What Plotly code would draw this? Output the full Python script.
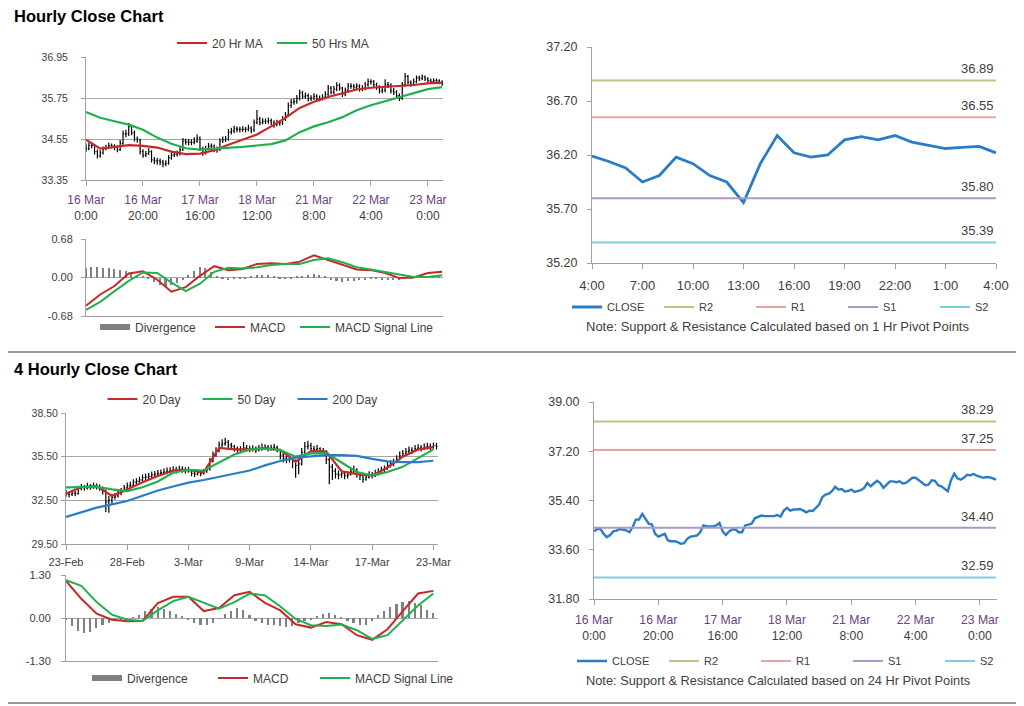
import plotly.graph_objects as go

FONT = "Liberation Sans, Arial, sans-serif"
TXT = "#404040"
GRID = "#a6a6a6"
AX = "#a0a0a0"
RED = "#c8282a"
GREEN = "#22b04e"
BLUE = "#2a7cc6"
DIVC = "#808080"

# ---------------- Hourly data (16 Mar 0:00 -> 23 Mar ~5:00) ----------------
hourly_ticks = ["16 Mar|0:00", "16 Mar|20:00", "17 Mar|16:00", "18 Mar|12:00",
                "21 Mar|8:00", "22 Mar|4:00", "23 Mar|0:00"]
hourly_close = [34.27, 34.36, 34.36, 34.18, 34.06, 34.14, 34.27, 34.30, 34.36, 34.34,
                34.31, 34.24, 34.42, 34.70, 34.70, 34.91, 34.73, 34.55, 34.52, 34.18,
                34.08, 34.12, 34.18, 33.94, 33.91, 33.91, 33.88, 33.82, 33.84, 34.00,
                34.08, 34.10, 34.12, 34.24, 34.49, 34.46, 34.45, 34.45, 34.49, 34.58,
                34.27, 34.14, 34.27, 34.34, 34.34, 34.24, 34.24, 34.49, 34.52, 34.55,
                34.75, 34.79, 34.85, 34.83, 34.83, 34.83, 34.83, 34.87, 34.81, 35.03,
                35.13, 35.03, 35.07, 35.07, 35.09, 35.04, 34.97, 35.03, 35.02, 35.13,
                35.25, 35.53, 35.62, 35.65, 35.74, 35.90, 35.80, 35.82, 35.73, 35.75,
                35.80, 35.71, 35.74, 35.78, 35.86, 36.04, 35.92, 36.01, 36.12, 36.04,
                35.86, 35.98, 36.10, 36.10, 36.07, 36.10, 36.02, 36.04, 36.14, 36.23,
                36.23, 36.14, 36.07, 35.96, 35.98, 36.14, 36.12, 35.96, 35.92, 35.82,
                35.74, 36.14, 36.38, 36.21, 36.16, 36.23, 36.34, 36.32, 36.37, 36.31,
                36.26, 36.23, 36.26, 36.25, 36.21, 36.16]
hourly_open = [34.35, 34.27, 34.36, 34.36, 34.18, 34.06, 34.14, 34.27, 34.30, 34.36,
               34.34, 34.31, 34.24, 34.42, 34.70, 34.70, 34.91, 34.73, 34.55, 34.52,
               34.18, 34.08, 34.12, 34.18, 33.94, 33.91, 33.91, 33.88, 33.82, 33.84,
               34.00, 34.08, 34.10, 34.12, 34.24, 34.49, 34.46, 34.45, 34.45, 34.49,
               34.58, 34.27, 34.14, 34.27, 34.34, 34.34, 34.24, 34.24, 34.49, 34.52,
               34.55, 34.75, 34.79, 34.85, 34.83, 34.83, 34.83, 34.83, 34.87, 34.81,
               35.03, 35.13, 35.03, 35.07, 35.07, 35.09, 35.04, 34.97, 35.03, 35.02,
               35.13, 35.25, 35.53, 35.62, 35.65, 35.74, 35.90, 35.80, 35.82, 35.73,
               35.75, 35.80, 35.71, 35.74, 35.78, 35.86, 36.04, 35.92, 36.01, 36.12,
               36.04, 35.86, 35.98, 36.10, 36.10, 36.07, 36.10, 36.02, 36.04, 36.14,
               36.23, 36.23, 36.14, 36.07, 35.96, 35.98, 36.14, 36.12, 35.96, 35.92,
               35.82, 35.74, 36.14, 36.38, 36.21, 36.16, 36.23, 36.34, 36.32, 36.37,
               36.31, 36.26, 36.23, 36.26, 36.25, 36.21]
hourly_high = [34.42, 34.44, 34.45, 34.40, 34.24, 34.22, 34.33, 34.38, 34.45, 34.42,
               34.40, 34.36, 34.52, 34.80, 34.82, 35.02, 34.96, 34.80, 34.62, 34.56,
               34.25, 34.20, 34.28, 34.22, 34.02, 34.00, 33.98, 33.94, 33.93, 34.08,
               34.16, 34.20, 34.21, 34.33, 34.58, 34.56, 34.55, 34.54, 34.60, 34.68,
               34.62, 34.32, 34.35, 34.43, 34.42, 34.39, 34.33, 34.57, 34.62, 34.64,
               34.84, 34.88, 34.94, 34.92, 34.91, 34.92, 34.90, 34.97, 34.92, 35.12,
               35.40, 35.20, 35.16, 35.15, 35.18, 35.15, 35.10, 35.11, 35.10, 35.22,
               35.34, 35.62, 35.72, 35.74, 35.84, 35.99, 35.96, 35.91, 35.88, 35.83,
               35.89, 35.86, 35.82, 35.86, 35.95, 36.13, 36.10, 36.10, 36.21, 36.18,
               36.08, 36.06, 36.19, 36.18, 36.16, 36.18, 36.15, 36.12, 36.22, 36.32,
               36.30, 36.28, 36.20, 36.12, 36.06, 36.30, 36.22, 36.18, 36.04, 35.98,
               35.88, 36.22, 36.48, 36.42, 36.26, 36.32, 36.41, 36.40, 36.44, 36.41,
               36.36, 36.32, 36.33, 36.32, 36.30, 36.27]
hourly_low = [34.18, 34.22, 34.28, 34.10, 33.98, 34.00, 34.10, 34.22, 34.26, 34.27,
              34.22, 34.16, 34.20, 34.38, 34.60, 34.64, 34.66, 34.48, 34.44, 34.10,
              34.00, 34.02, 34.08, 33.86, 33.82, 33.80, 33.78, 33.72, 33.75, 33.80,
              33.94, 34.02, 34.04, 34.07, 34.20, 34.38, 34.36, 34.37, 34.40, 34.44,
              34.20, 34.06, 34.10, 34.22, 34.26, 34.16, 34.15, 34.20, 34.43, 34.46,
              34.50, 34.68, 34.72, 34.75, 34.74, 34.76, 34.74, 34.78, 34.72, 34.76,
              34.98, 34.95, 34.98, 34.99, 35.00, 34.96, 34.88, 34.92, 34.94, 34.96,
              35.08, 35.20, 35.46, 35.55, 35.58, 35.68, 35.72, 35.73, 35.65, 35.66,
              35.69, 35.63, 35.65, 35.68, 35.71, 35.80, 35.85, 35.86, 35.95, 35.96,
              35.78, 35.80, 35.92, 36.02, 35.99, 36.00, 35.94, 35.95, 35.98, 36.08,
              36.14, 36.06, 35.99, 35.88, 35.89, 35.92, 36.04, 35.88, 35.84, 35.74,
              35.66, 35.70, 36.08, 36.14, 36.08, 36.10, 36.18, 36.25, 36.27, 36.24,
              36.19, 36.17, 36.18, 36.19, 36.15, 36.11]
# moving averages / MACD read every 5 bars
ma_step_h = 5
ma20_h = [34.53, 34.27, 34.32, 34.37, 34.35, 34.30, 34.18, 34.11, 34.12, 34.22,
          34.38, 34.53, 34.68, 34.92, 35.17, 35.46, 35.64, 35.78, 35.90, 36.00,
          36.05, 36.08, 36.09, 36.13, 36.18, 36.20]
ma50_h = [35.34, 35.17, 35.07, 34.97, 34.82, 34.59, 34.41, 34.28, 34.24, 34.26,
          34.28, 34.32, 34.36, 34.40, 34.51, 34.75, 34.92, 35.04, 35.19, 35.39,
          35.54, 35.66, 35.78, 35.90, 36.01, 36.07]
macd_h = [-0.50, -0.30, -0.15, 0.07, 0.11, -0.04, -0.25, -0.17, 0.03, 0.20,
          0.13, 0.15, 0.24, 0.25, 0.24, 0.28, 0.39, 0.31, 0.22, 0.14,
          0.13, 0.08, -0.01, 0.00, 0.08, 0.10]
signal_h = [-0.57, -0.43, -0.24, -0.06, 0.09, 0.08, -0.09, -0.24, -0.11, 0.10,
            0.17, 0.16, 0.18, 0.22, 0.24, 0.24, 0.31, 0.34, 0.27, 0.18,
            0.14, 0.10, 0.05, 0.01, 0.01, 0.04]
div_step_h = 2
div_h = [0.17, 0.18, 0.18, 0.17, 0.16, 0.15, 0.14, 0.12, 0.06, 0.02,
         0.01, -0.03, -0.08, -0.13, -0.16, -0.14, -0.10, -0.05, 0.04, 0.12,
         0.18, 0.16, 0.10, 0.02, -0.03, -0.04, -0.03, -0.02, -0.01, 0.02,
         0.04, 0.05, 0.04, 0.01, -0.01, -0.02, -0.01, 0.01, 0.02, 0.04,
         0.06, 0.05, 0.02, -0.04, -0.07, -0.08, -0.07, -0.06, -0.05, -0.04,
         -0.03, -0.03, -0.04, -0.04, -0.05, -0.04, -0.02, -0.01, 0.01, 0.02,
         0.03, 0.03, 0.02]

# ---------------- 1 Hr pivot chart ----------------
pivot1_hours = ["4:00", "5:00", "6:00", "7:00", "8:00", "9:00", "10:00", "11:00", "12:00",
                "13:00", "14:00", "15:00", "16:00", "17:00", "18:00", "19:00", "20:00",
                "21:00", "22:00", "23:00", "0:00", "1:00", "2:00", "3:00", "4:00"]
pivot1_close = [36.19, 36.14, 36.08, 35.95, 36.01, 36.18, 36.12, 36.01, 35.95, 35.76,
                36.12, 36.38, 36.22, 36.18, 36.20, 36.34, 36.37, 36.34, 36.38, 36.32,
                36.29, 36.26, 36.27, 36.28, 36.22]
pivot1_levels = {"R2": 36.89, "R1": 36.55, "S1": 35.80, "S2": 35.39}

# ---------------- 24 Hr pivot chart (uses hourly closes) ----------------
pivot24_levels = {"R2": 38.29, "R1": 37.25, "S1": 34.40, "S2": 32.59}
level_colors = {"R2": "#b3ca86", "R1": "#e8a3a3", "S1": "#ad97c9", "S2": "#7fcbe2"}

# ---------------- 4 Hourly data (23 Feb -> 23 Mar) ----------------
h4_ticks = ["23-Feb", "28-Feb", "3-Mar", "9-Mar", "14-Mar", "17-Mar", "23-Mar"]
h4_close = [32.95, 32.90, 33.00, 32.95, 33.30, 33.40, 33.35, 33.45, 33.40, 33.50,
            33.45, 33.35, 33.20, 32.40, 32.50, 32.70, 32.80, 33.00, 33.10, 33.35,
            33.50, 33.55, 33.75, 33.80, 33.90, 34.05, 34.10, 34.15, 34.25, 34.30,
            34.35, 34.40, 34.45, 34.50, 34.55, 34.60, 34.55, 34.65, 34.60, 34.55,
            34.60, 34.35, 34.30, 34.40, 34.35, 34.45, 34.60, 35.20, 35.60, 35.90,
            36.30, 36.40, 36.50, 36.30, 36.20, 36.05, 35.95, 36.00, 36.10, 36.05,
            36.00, 36.05, 35.95, 36.05, 36.10, 36.15, 36.05, 36.10, 36.15, 36.00,
            35.60, 35.40, 35.30, 35.35, 35.20, 34.90, 35.00, 35.80, 36.20, 36.25,
            36.05, 36.00, 36.05, 35.90, 35.85, 35.30, 34.80, 34.50, 34.30, 34.25,
            34.35, 34.20, 34.25, 34.50, 34.60, 34.30, 34.20, 33.95, 34.10, 34.25,
            34.20, 34.35, 34.45, 34.55, 34.65, 34.90, 35.00, 35.10, 35.30, 35.55,
            35.70, 35.85, 35.95, 35.90, 36.05, 36.10, 36.05, 36.15, 36.20, 36.15,
            36.25, 36.20]
h4_open = [33.05, 32.95, 32.90, 33.00, 32.95, 33.30, 33.40, 33.35, 33.45, 33.40,
           33.50, 33.45, 33.35, 33.20, 32.40, 32.50, 32.70, 32.80, 33.00, 33.10,
           33.35, 33.50, 33.55, 33.75, 33.80, 33.90, 34.05, 34.10, 34.15, 34.25,
           34.30, 34.35, 34.40, 34.45, 34.50, 34.55, 34.60, 34.55, 34.65, 34.60,
           34.55, 34.60, 34.35, 34.30, 34.40, 34.35, 34.45, 34.60, 35.20, 35.60,
           35.90, 36.30, 36.40, 36.50, 36.30, 36.20, 36.05, 35.95, 36.00, 36.10,
           36.05, 36.00, 36.05, 35.95, 36.05, 36.10, 36.15, 36.05, 36.10, 36.15,
           36.00, 35.60, 35.40, 35.30, 35.35, 35.20, 34.90, 35.00, 35.80, 36.20,
           36.25, 36.05, 36.00, 36.05, 35.90, 35.85, 35.30, 34.80, 34.50, 34.30,
           34.25, 34.35, 34.20, 34.25, 34.50, 34.60, 34.30, 34.20, 33.95, 34.10,
           34.25, 34.20, 34.35, 34.45, 34.55, 34.65, 34.90, 35.00, 35.10, 35.30,
           35.55, 35.70, 35.85, 35.95, 35.90, 36.05, 36.10, 36.05, 36.15, 36.20,
           36.15, 36.25]
h4_high = [33.20, 33.10, 33.20, 33.15, 33.50, 33.62, 33.55, 33.70, 33.62, 33.72,
           33.65, 33.58, 33.45, 33.25, 32.80, 32.95, 33.00, 33.25, 33.35, 33.55,
           33.72, 33.78, 33.95, 34.02, 34.12, 34.28, 34.32, 34.38, 34.48, 34.52,
           34.58, 34.62, 34.68, 34.75, 34.78, 34.85, 34.80, 34.88, 34.85, 34.78,
           34.80, 34.65, 34.50, 34.60, 34.55, 34.65, 34.85, 35.40, 35.85, 36.15,
           36.55, 36.70, 36.80, 36.65, 36.45, 36.30, 36.20, 36.22, 36.50, 36.30,
           36.25, 36.28, 36.20, 36.30, 36.40, 36.35, 36.30, 36.32, 36.38, 36.25,
           36.05, 35.75, 35.55, 35.60, 35.45, 35.30, 35.40, 36.10, 36.50, 36.60,
           36.45, 36.25, 36.30, 36.15, 36.10, 35.95, 35.45, 35.00, 34.70, 34.55,
           34.60, 34.50, 34.50, 34.75, 34.90, 34.70, 34.45, 34.30, 34.35, 34.50,
           34.45, 34.60, 34.70, 34.80, 34.90, 35.15, 35.25, 35.35, 35.60, 35.85,
           35.95, 36.10, 36.20, 36.15, 36.30, 36.35, 36.30, 36.40, 36.45, 36.40,
           36.48, 36.45]
h4_low = [32.75, 32.70, 32.80, 32.78, 32.90, 33.20, 33.15, 33.25, 33.22, 33.30,
          33.25, 33.15, 32.90, 31.70, 31.65, 32.20, 32.55, 32.70, 32.85, 33.05,
          33.25, 33.30, 33.50, 33.55, 33.65, 33.80, 33.90, 33.95, 34.05, 34.10,
          34.15, 34.18, 34.25, 34.30, 34.35, 34.38, 34.35, 34.45, 34.40, 34.35,
          34.40, 34.15, 34.10, 34.20, 34.15, 34.25, 34.40, 34.55, 35.10, 35.50,
          35.80, 36.15, 36.25, 36.10, 35.95, 35.85, 35.75, 35.80, 35.90, 35.85,
          35.80, 35.85, 35.75, 35.85, 35.90, 35.95, 35.85, 35.90, 35.95, 35.80,
          35.30, 35.10, 35.05, 35.10, 34.70, 34.05, 34.30, 34.90, 35.70, 36.00,
          35.85, 35.80, 35.85, 35.70, 35.65, 35.00, 33.60, 33.90, 34.00, 33.95,
          34.05, 33.95, 34.00, 34.20, 34.35, 34.05, 33.90, 33.70, 33.85, 34.00,
          34.00, 34.10, 34.20, 34.30, 34.40, 34.60, 34.75, 34.85, 35.05, 35.25,
          35.45, 35.60, 35.70, 35.70, 35.85, 35.90, 35.85, 35.95, 36.00, 35.95,
          36.05, 36.00]
ma_step_4 = 5
ma20_4 = [32.96, 33.41, 33.48, 32.80, 33.25, 33.75, 34.17, 34.55, 34.57, 34.44,
          36.10, 36.00, 36.00, 36.08, 35.95, 35.15, 35.88, 35.85, 34.50, 34.30,
          34.20, 34.75, 35.50, 36.00, 36.15]
ma50_4 = [33.39, 33.39, 33.42, 33.25, 33.14, 33.40, 33.80, 34.40, 34.60, 34.55,
          35.10, 35.65, 36.00, 36.05, 35.95, 35.50, 35.72, 35.75, 35.10, 34.45,
          34.20, 34.45, 34.80, 35.40, 36.00]
ma200_4 = [31.36, 31.70, 32.00, 32.22, 32.45, 32.82, 33.18, 33.45, 33.72, 33.90,
           34.12, 34.33, 34.55, 34.90, 35.20, 35.43, 35.52, 35.60, 35.60, 35.55,
           35.35, 35.18, 35.13, 35.12, 35.22]
macd_4 = [1.12, 0.58, 0.13, -0.05, -0.10, -0.09, 0.45, 0.64, 0.64, 0.21,
          0.30, 0.69, 0.79, 0.46, 0.23, -0.19, -0.29, -0.12, -0.19, -0.52,
          -0.66, -0.34, 0.21, 0.74, 0.82]
signal_4 = [1.14, 0.97, 0.48, 0.10, -0.05, -0.09, 0.23, 0.51, 0.64, 0.45,
            0.28, 0.48, 0.74, 0.68, 0.35, -0.03, -0.22, -0.24, -0.20, -0.37,
            -0.63, -0.52, -0.07, 0.38, 0.74]
div_step_4 = 2
div_4 = [-0.05, -0.25, -0.38, -0.45, -0.42, -0.30, -0.22, -0.14, -0.08, -0.05,
         -0.02, 0.02, 0.08, 0.20, 0.28, 0.33, 0.28, 0.20, 0.12, 0.05,
         -0.05, -0.14, -0.20, -0.22, -0.15, -0.02, 0.12, 0.22, 0.30, 0.25,
         0.08, -0.08, -0.14, -0.20, -0.22, -0.25, -0.26, -0.24, -0.15, -0.08,
         -0.04, 0.05, 0.12, 0.14, 0.10, 0.02, -0.10, -0.16, -0.20, -0.22,
         -0.10, 0.08, 0.22, 0.33, 0.42, 0.48, 0.50, 0.46, 0.38, 0.25, 0.15]


# ---------------- helpers ----------------
def idx(values, step=1):
    return [i * step for i in range(len(values))]


def tick_text(label):
    top, bottom = label.split("|")
    return f"<span style='color:#6e3f7f'>{top}</span><br>{bottom}"


def fmt(v):
    return f"{v:.2f}"


# the page body has an 8px margin: the figure is sized to fit the window and
# page-pixel targets are converted to figure-paper fractions
OFF = 8
W, H = 1024 - OFF, 706 - OFF


def px_x(a, b):
    return [(a - OFF) / W, (b - OFF) / W]


def px_y(top, bottom):
    return [1 - (bottom - OFF) / H, 1 - (top - OFF) / H]


def fx(a):
    return (a - OFF) / W


def fy(a):
    return 1 - (a - OFF) / H


def yaxis(domain, rng, vals, size, grid=True, anchor="x", standoff=0):
    return dict(domain=domain, range=rng, tickvals=vals, ticktext=[fmt(v) for v in vals],
                showgrid=grid, gridcolor=GRID, gridwidth=1, zeroline=False,
                showline=True, linecolor=AX, linewidth=1, ticks="outside", ticklen=4,
                tickcolor=AX, tickfont=dict(family=FONT, size=size, color=TXT),
                ticklabelstandoff=standoff, anchor=anchor, fixedrange=True,
                automargin=False)


def xaxis(domain, rng, vals=None, text=None, size=11.5, anchor="y", labels=True, standoff=0):
    d = dict(domain=domain, range=rng, showgrid=False, zeroline=False,
             showline=True, linecolor=AX, linewidth=1, anchor=anchor, fixedrange=True,
             automargin=False, tickfont=dict(family=FONT, size=size, color=TXT))
    if labels:
        d.update(tickvals=vals, ticktext=text, ticks="outside", ticklen=5, tickcolor=AX,
                 ticklabelstandoff=standoff)
    else:
        d.update(showticklabels=False, ticks="")
    return d


def legend(cx, cy, size, entrywidth):
    return dict(x=fx(cx), y=fy(cy), xanchor="center", yanchor="middle", orientation="h",
                font=dict(family=FONT, size=size, color=TXT), bgcolor="rgba(0,0,0,0)",
                itemwidth=30, tracegroupgap=0, entrywidth=entrywidth,
                entrywidthmode="pixels")


def item_legend(line_start, cy, size):
    return dict(x=fx(line_start - 5), y=fy(cy), xanchor="left", yanchor="middle",
                orientation="h", font=dict(family=FONT, size=size, color=TXT),
                bgcolor="rgba(0,0,0,0)", itemwidth=30, tracegroupgap=0)


fig = go.Figure()
bars_h = idx(hourly_close)
bars_4 = idx(h4_close)

# Panel A: hourly bars + MAs
fig.add_trace(go.Ohlc(x=bars_h, open=hourly_open, high=hourly_high, low=hourly_low,
                      close=hourly_close, increasing_line_color="black",
                      decreasing_line_color="black", line_width=1.2, tickwidth=0.35,
                      showlegend=False, xaxis="x", yaxis="y", hoverinfo="skip"))
fig.add_trace(go.Scatter(x=idx(ma20_h, ma_step_h), y=ma20_h, mode="lines", name="20 Hr MA",
                         line=dict(color=RED, width=2.2), xaxis="x", yaxis="y", legend="legend"))
fig.add_trace(go.Scatter(x=idx(ma50_h, ma_step_h), y=ma50_h, mode="lines", name="50 Hrs MA",
                         line=dict(color=GREEN, width=2.2), xaxis="x", yaxis="y", legend="legend"))

# Panel A MACD
fig.add_trace(go.Bar(x=idx(div_h, div_step_h), y=div_h, name="Divergence", width=0.55,
                     marker=dict(color=DIVC, line_width=0), xaxis="x2", yaxis="y2",
                     showlegend=False))
fig.add_trace(go.Scatter(x=[None], y=[None], mode="lines", name="Divergence",
                         line=dict(color=DIVC, width=6), xaxis="x2", yaxis="y2",
                         legend="legend2"))
fig.add_trace(go.Scatter(x=idx(macd_h, ma_step_h), y=macd_h, mode="lines", name="MACD",
                         line=dict(color=RED, width=2), xaxis="x2", yaxis="y2", legend="legend7"))
fig.add_trace(go.Scatter(x=idx(signal_h, ma_step_h), y=signal_h, mode="lines",
                         name="MACD Signal Line", line=dict(color=GREEN, width=2),
                         xaxis="x2", yaxis="y2", legend="legend8"))

# Panel B: 1 Hr pivot
hrs = idx(pivot1_close)
fig.add_trace(go.Scatter(x=hrs, y=pivot1_close, mode="lines", name="CLOSE",
                         line=dict(color=BLUE, width=2.8), xaxis="x3", yaxis="y3",
                         legend="legend3"))
for k, v in pivot1_levels.items():
    fig.add_trace(go.Scatter(x=[hrs[0], hrs[-1]], y=[v, v], mode="lines", name=k,
                             line=dict(color=level_colors[k], width=2), xaxis="x3",
                             yaxis="y3", legend="legend3"))

# Panel C: 4 hourly bars + MAs
fig.add_trace(go.Ohlc(x=bars_4, open=h4_open, high=h4_high, low=h4_low, close=h4_close,
                      increasing_line_color="black", decreasing_line_color="black",
                      line_width=1.2, tickwidth=0.35, showlegend=False, xaxis="x4",
                      yaxis="y4", hoverinfo="skip"))
fig.add_trace(go.Scatter(x=idx(ma20_4, ma_step_4), y=ma20_4, mode="lines", name="20 Day",
                         line=dict(color=RED, width=2.2), xaxis="x4", yaxis="y4", legend="legend4"))
fig.add_trace(go.Scatter(x=idx(ma50_4, ma_step_4), y=ma50_4, mode="lines", name="50 Day",
                         line=dict(color=GREEN, width=2.2), xaxis="x4", yaxis="y4", legend="legend4"))
fig.add_trace(go.Scatter(x=idx(ma200_4, ma_step_4), y=ma200_4, mode="lines", name="200 Day",
                         line=dict(color=BLUE, width=2.2), xaxis="x4", yaxis="y4", legend="legend4"))

# Panel C MACD
fig.add_trace(go.Bar(x=idx(div_4, div_step_4), y=div_4, name="Divergence", width=0.55,
                     marker=dict(color=DIVC, line_width=0), xaxis="x5", yaxis="y5",
                     showlegend=False))
fig.add_trace(go.Scatter(x=[None], y=[None], mode="lines", name="Divergence",
                         line=dict(color=DIVC, width=6), xaxis="x5", yaxis="y5",
                         legend="legend5"))
fig.add_trace(go.Scatter(x=idx(macd_4, ma_step_4), y=macd_4, mode="lines", name="MACD",
                         line=dict(color=RED, width=2), xaxis="x5", yaxis="y5", legend="legend9"))
fig.add_trace(go.Scatter(x=idx(signal_4, ma_step_4), y=signal_4, mode="lines",
                         name="MACD Signal Line", line=dict(color=GREEN, width=2),
                         xaxis="x5", yaxis="y5", legend="legend10"))

# Panel D: 24 Hr pivot
fig.add_trace(go.Scatter(x=bars_h, y=hourly_close, mode="lines", name="CLOSE",
                         line=dict(color=BLUE, width=2.4), xaxis="x6", yaxis="y6",
                         legend="legend6"))
for k, v in pivot24_levels.items():
    fig.add_trace(go.Scatter(x=[bars_h[0], bars_h[-1]], y=[v, v], mode="lines", name=k,
                             line=dict(color=level_colors[k], width=2), xaxis="x6",
                             yaxis="y6", legend="legend6"))

# ---------------- layout ----------------
h_tickvals = [i * 20 for i in range(len(hourly_ticks))]
h_ticktext = [tick_text(t) for t in hourly_ticks]
p1_tickvals = hrs[::3]
p1_ticktext = pivot1_hours[::3]
h4_tickvals = [i * 20 for i in range(len(h4_ticks))]

annotations = [
    dict(text="<b>Hourly Close Chart</b>", x=fx(12), y=fy(16), xref="paper", yref="paper",
         xanchor="left", yanchor="middle", showarrow=False,
         font=dict(family=FONT, size=16.5, color="black")),
    dict(text="<b>4 Hourly Close Chart</b>", x=fx(12), y=fy(369), xref="paper",
         yref="paper", xanchor="left", yanchor="middle", showarrow=False,
         font=dict(family=FONT, size=16.5, color="black")),
    dict(text="Note: Support & Resistance Calculated based on 1 Hr Pivot Points",
         x=fx(777), y=fy(326), xref="paper", yref="paper", xanchor="center",
         yanchor="middle", showarrow=False, font=dict(family=FONT, size=13, color=TXT)),
    dict(text="Note: Support & Resistance Calculated based on 24 Hr Pivot Points",
         x=fx(778), y=fy(680), xref="paper", yref="paper", xanchor="center",
         yanchor="middle", showarrow=False, font=dict(family=FONT, size=12.8, color=TXT)),
]
for k, v in pivot1_levels.items():
    annotations.append(dict(text=fmt(v), x=hrs[-1], y=v, xref="x3", yref="y3",
                            xanchor="right", yanchor="bottom", yshift=2, showarrow=False,
                            font=dict(family=FONT, size=13, color=TXT)))
for k, v in pivot24_levels.items():
    annotations.append(dict(text=fmt(v), x=bars_h[-1], y=v, xref="x6", yref="y6",
                            xanchor="right", yanchor="bottom", yshift=2, showarrow=False,
                            font=dict(family=FONT, size=13, color=TXT)))

shapes = [
    dict(type="line", xref="paper", yref="paper", x0=0, x1=1, y0=fy(352), y1=fy(352),
         line=dict(color="#9a9a9a", width=2)),
    dict(type="line", xref="paper", yref="paper", x0=0, x1=1, y0=fy(703), y1=fy(703),
         line=dict(color="#9a9a9a", width=2)),
]

fig.update_layout(
    width=W, height=H, autosize=False,
    margin=dict(l=0, r=0, t=0, b=0, pad=0, autoexpand=False),
    paper_bgcolor="white", plot_bgcolor="white", bargap=0, barmode="overlay",
    showlegend=True, hovermode=False,
    font=dict(family=FONT, color=TXT),
    annotations=annotations, shapes=shapes,
    # Panel A
    xaxis=dict(**xaxis(px_x(86, 443), [0, 125.3], h_tickvals, h_ticktext, 12, "y",
                       standoff=4), rangeslider=dict(visible=False)),
    yaxis=yaxis(px_y(57, 180), [33.35, 36.95], [33.35, 34.55, 35.75, 36.95], 10.5, True, "x",
                standoff=11),
    # Panel A MACD
    xaxis2=xaxis(px_x(86, 443), [0, 125.3], anchor="y2", labels=False),
    yaxis2=yaxis(px_y(239, 316), [-0.68, 0.68], [-0.68, 0.0, 0.68], 11, True, "x2",
                 standoff=6),
    # Panel B
    xaxis3=xaxis(px_x(592, 996), [0, 24], p1_tickvals, p1_ticktext, 13, "y3", standoff=5),
    yaxis3=yaxis(px_y(47, 263), [35.2, 37.2], [35.2, 35.7, 36.2, 36.7, 37.2], 12.5, False,
                 "x3", standoff=7),
    # Panel C
    xaxis4=dict(**xaxis(px_x(66, 438), [0, 121.5], h4_tickvals, h4_ticks, 11, "y4",
                        standoff=3), rangeslider=dict(visible=False)),
    yaxis4=yaxis(px_y(413, 544), [29.5, 38.5], [29.5, 32.5, 35.5, 38.5], 10.5, True, "x4",
                 standoff=1),
    # Panel C MACD
    xaxis5=xaxis(px_x(66, 438), [0, 121.5], anchor="y5", labels=False),
    yaxis5=yaxis(px_y(575, 661), [-1.3, 1.3], [-1.3, 0.0, 1.3], 11, True, "x5", standoff=8),
    # Panel D
    xaxis6=xaxis(px_x(594, 997), [0, 125.3], h_tickvals, h_ticktext, 12.2, "y6", standoff=4),
    yaxis6=yaxis(px_y(402, 599), [31.8, 39.0], [31.8, 33.6, 35.4, 37.2, 39.0], 12.5, False,
                 "x6", standoff=7),
    legend=legend(272, 43, 12, 55),
    legend3=legend(797, 307, 11, 47),
    legend4=legend(245, 399, 12, 50),
    legend6=legend(802, 661, 11, 47),
    legend2=item_legend(100, 327, 12),
    legend7=item_legend(215, 327, 12),
    legend8=item_legend(300, 327, 12),
    legend5=item_legend(92, 678, 12),
    legend9=item_legend(218, 678, 12),
    legend10=item_legend(320, 678, 12),
)

fig.write_html("out.html")
